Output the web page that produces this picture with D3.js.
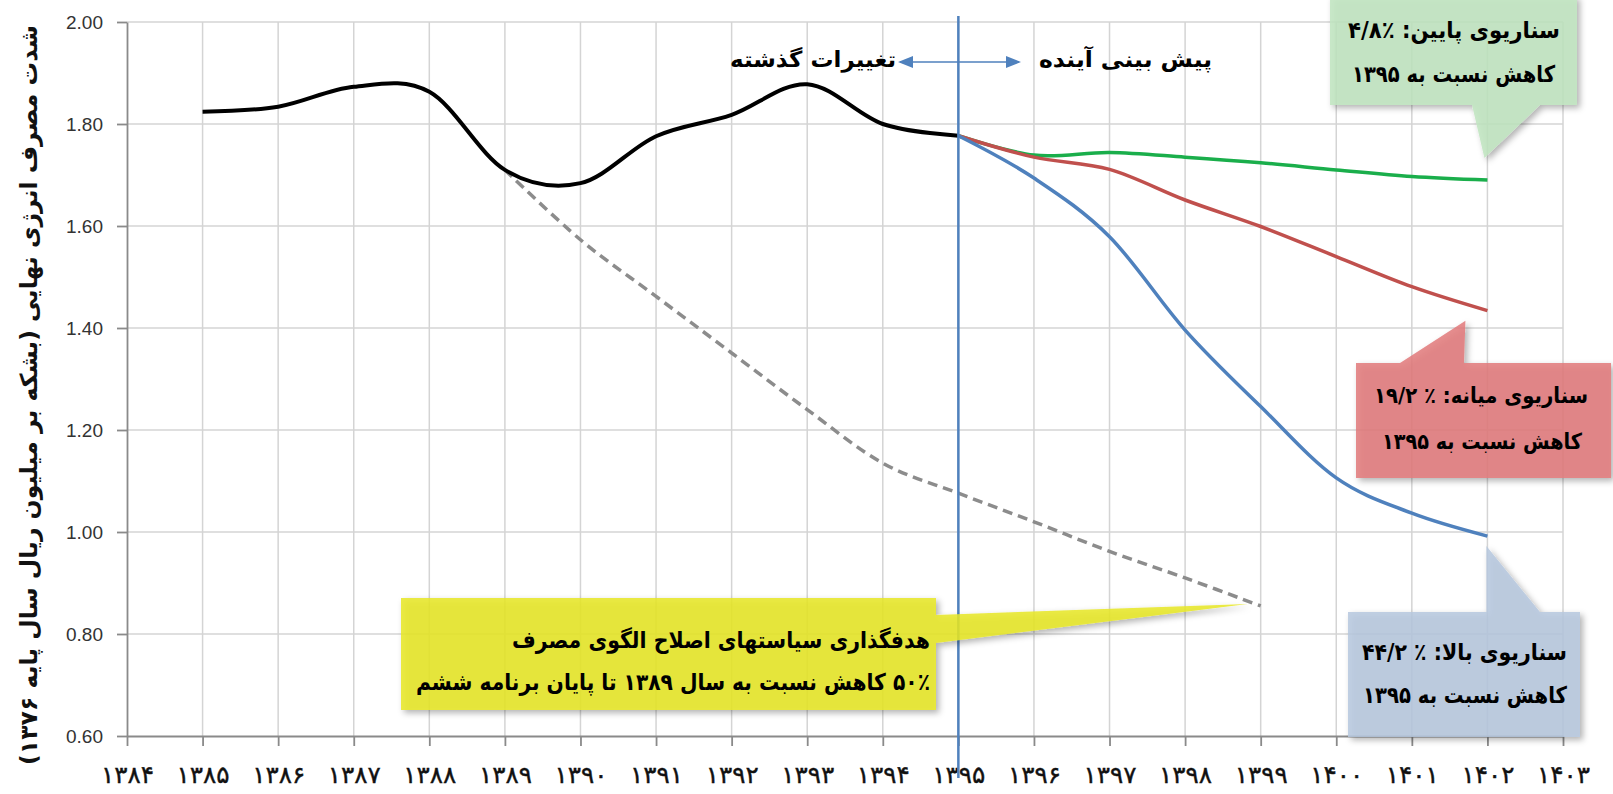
<!DOCTYPE html>
<html>
<head>
<meta charset="utf-8">
<script src="https://cdn.jsdelivr.net/npm/d3@7"></script>
<style>
  body { margin: 0; background: #fff; overflow: hidden; }
  svg { display: block; }
</style>
</head>
<body>
<div id="chart"></div>
<script>
const width = 1613;
const height = 794;

// axis ticks
const years = d3.range(1384, 1404);
const yTicks = [0.6, 0.8, 1.0, 1.2, 1.4, 1.6, 1.8, 2.0];

// past changes (black)
const pastYears = [1385, 1386, 1387, 1388, 1389, 1390, 1391, 1392, 1393, 1394, 1395];
const pastValues = [1.824, 1.834, 1.873, 1.863, 1.710, 1.684, 1.776, 1.818, 1.878, 1.800, 1.777];

// consumption pattern reform target (dashed)
const targetYears = [1389, 1390, 1391, 1392, 1393, 1394, 1395, 1396, 1397, 1398, 1399];
const targetValues = [1.710, 1.573, 1.462, 1.351, 1.240, 1.135, 1.076, 1.020, 0.962, 0.910, 0.855];

// forecast scenarios
const forecastYears = [1395, 1396, 1397, 1398, 1399, 1400, 1401, 1402];
const lowValues = [1.777, 1.739, 1.744, 1.735, 1.724, 1.710, 1.697, 1.690];
const midValues = [1.777, 1.735, 1.711, 1.651, 1.599, 1.540, 1.481, 1.434];
const highValues = [1.777, 1.694, 1.579, 1.396, 1.246, 1.106, 1.037, 0.992];

// texts
const yTitle = "شدت مصرف انرژی نهایی (بشکه بر میلیون ریال سال پایه ۱۳۷۶)";
const pastLabel = "تغییرات گذشته";
const futureLabel = "پیش بینی آینده";
const lowNote = ["سناریوی پایین: ٪۴/۸", "کاهش نسبت به ۱۳۹۵"];
const midNote = ["سناریوی میانه: ٪ ۱۹/۲", "کاهش نسبت به ۱۳۹۵"];
const highNote = ["سناریوی بالا: ٪ ۴۴/۲", "کاهش نسبت به ۱۳۹۵"];
const targetNote = ["هدفگذاری  سیاستهای اصلاح الگوی مصرف", "۵۰٪ کاهش نسبت به سال ۱۳۸۹ تا پایان برنامه ششم"];

const faDigits = s => String(s).replace(/\d/g, d => "۰۱۲۳۴۵۶۷۸۹"[d]);
const faFont = "'DejaVu Sans', sans-serif";

const svg = d3.select("#chart").append("svg")
    .attr("width", width)
    .attr("height", height);

svg.append("rect").attr("width", width).attr("height", height).attr("fill", "#fff");

const defs = svg.append("defs");
defs.append("filter")
    .attr("id", "shadow")
    .attr("x", "-10%").attr("y", "-10%").attr("width", "130%").attr("height", "140%")
    .append("feDropShadow")
    .attr("dx", 3).attr("dy", 3)
    .attr("stdDeviation", 3)
    .attr("flood-color", "#000")
    .attr("flood-opacity", 0.35);

const x = d3.scaleLinear().domain([1384, 1403]).range([127, 1563]);
const y = d3.scaleLinear().domain([0.6, 2.0]).range([736, 22]);

// gridlines
svg.append("g")
    .selectAll("line")
    .data(yTicks.slice(1))
    .enter()
    .append("line")
    .attr("x1", x(1384)).attr("x2", x(1403))
    .attr("y1", d => y(d)).attr("y2", d => y(d))
    .attr("stroke", "#d4d4d4")
    .attr("stroke-width", 1.5);

svg.append("g")
    .selectAll("line")
    .data(years.slice(1))
    .enter()
    .append("line")
    .attr("x1", d => x(d)).attr("x2", d => x(d))
    .attr("y1", y(2.0)).attr("y2", y(0.6))
    .attr("stroke", "#d4d4d4")
    .attr("stroke-width", 1.5);

// axes
const yAxis = svg.append("g")
    .attr("transform", `translate(${x(1384)},0)`)
    .call(d3.axisLeft(y).tickValues(yTicks).tickFormat(d3.format(".2f")).tickSize(10).tickSizeOuter(0).tickPadding(14));
yAxis.selectAll("path, line").attr("stroke", "#8a8a8a").attr("stroke-width", 1.8);
yAxis.selectAll("text")
    .attr("font-family", "'Liberation Sans', Arial, sans-serif")
    .attr("font-size", 19)
    .attr("fill", "#333");

const xAxis = svg.append("g")
    .attr("transform", `translate(0,${y(0.6)})`)
    .call(d3.axisBottom(x).tickValues(years).tickFormat(faDigits).tickSize(10).tickSizeOuter(0));
xAxis.selectAll("path, line").attr("stroke", "#8a8a8a").attr("stroke-width", 1.8);
xAxis.selectAll("text")
    .attr("font-family", faFont)
    .attr("font-size", 24)
    .attr("fill", "#111")
    .attr("stroke", "#111")
    .attr("stroke-width", 0.4)
    .attr("y", 47)
    .attr("dy", 0)
    .attr("textLength", 53)
    .attr("lengthAdjust", "spacingAndGlyphs");

// y axis title
const title = svg.append("text")
    .attr("transform", "translate(37,395) rotate(-90)")
    .attr("text-anchor", "middle")
    .attr("direction", "rtl")
    .attr("font-family", faFont)
    .attr("font-weight", "bold")
    .attr("font-size", 22)
    .attr("fill", "#111")
    .text(yTitle);
{
    const len = title.node().getComputedTextLength();
    title.attr("font-size", 22 * 740 / len);
}

const smooth = d3.line()
    .x(d => x(d[0]))
    .y(d => y(d[1]))
    .curve(d3.curveCardinal.tension(0));

const zip = (a, b) => a.map((d, i) => [d, b[i]]);

svg.append("path")
    .datum(zip(targetYears, targetValues))
    .attr("d", smooth)
    .attr("fill", "none")
    .attr("stroke", "#8c8c8c")
    .attr("stroke-width", 3.5)
    .attr("stroke-dasharray", "10,6");

svg.append("path")
    .datum(zip(pastYears, pastValues))
    .attr("d", smooth)
    .attr("fill", "none")
    .attr("stroke", "#000")
    .attr("stroke-width", 4);

const scenarios = [
    { values: lowValues, color: "#1aae4b" },
    { values: midValues, color: "#c0504d" },
    { values: highValues, color: "#4f81bd" }
];

svg.append("g")
    .selectAll("path")
    .data(scenarios)
    .enter()
    .append("path")
    .attr("d", d => smooth(zip(forecastYears, d.values)))
    .attr("fill", "none")
    .attr("stroke", d => d.color)
    .attr("stroke-width", 3.5);

// 1395 divider
svg.append("line")
    .attr("x1", x(1395)).attr("x2", x(1395))
    .attr("y1", 16).attr("y2", 778)
    .attr("stroke", "#4f81bd")
    .attr("stroke-width", 2.5);

// past / future arrows
const arrowY = 62;
svg.append("line")
    .attr("x1", 900).attr("x2", 1019)
    .attr("y1", arrowY).attr("y2", arrowY)
    .attr("stroke", "#4f81bd")
    .attr("stroke-width", 1.5);
svg.append("path")
    .attr("d", `M898,${arrowY} L913,${arrowY - 6} L913,${arrowY + 6} Z M1021,${arrowY} L1006,${arrowY - 6} L1006,${arrowY + 6} Z`)
    .attr("fill", "#4f81bd");

// persian label squeezed into [left, right]
function label(txt, left, right, baseline, size) {
    svg.append("text")
        .attr("x", (left + right) / 2)
        .attr("y", baseline)
        .attr("text-anchor", "middle")
        .attr("direction", "rtl")
        .attr("font-family", faFont)
        .attr("font-weight", "bold")
        .attr("font-size", size)
        .attr("fill", "#000")
        .attr("textLength", right - left)
        .attr("lengthAdjust", "spacingAndGlyphs")
        .text(txt);
}

label(pastLabel, 730, 896, 67, 22);
label(futureLabel, 1039, 1212, 67, 22);

// callouts
function callout(path, fill) {
    svg.append("path")
        .attr("d", path)
        .attr("fill", fill)
        .attr("fill-opacity", 0.85)
        .attr("filter", "url(#shadow)");
}

const xEnd = x(1402);

callout(`M1330,-4 H1577 V105 H1540 L${xEnd - 3},${y(lowValues[7]) - 22} L1472,105 H1330 Z`, "#bfe5bf");
label(lowNote[0], 1348, 1560, 38, 23);
label(lowNote[1], 1352, 1555, 82, 23);

callout(`M1356,363 H1400 L${xEnd - 22},${y(midValues[7]) + 10} L1464,363 H1611 V478 H1356 Z`, "#e27a7b");
label(midNote[0], 1374, 1588, 403, 22);
label(midNote[1], 1382, 1582, 449, 22);

callout(`M1348,612 H${xEnd - 1} L${xEnd - 1},${y(highValues[7]) + 10} L1540,612 H1580 V737 H1348 Z`, "#b6c8de");
label(highNote[0], 1362, 1567, 660, 23);
label(highNote[1], 1363, 1567, 703, 23);

callout(`M401,598 H936 V615 L${x(1399) - 13},${y(targetValues[10]) - 2} L936,643 V710 H401 Z`, "#e8e824");
label(targetNote[0], 512, 930, 648, 23);
label(targetNote[1], 416, 930, 690, 23);
</script>
</body>
</html>
